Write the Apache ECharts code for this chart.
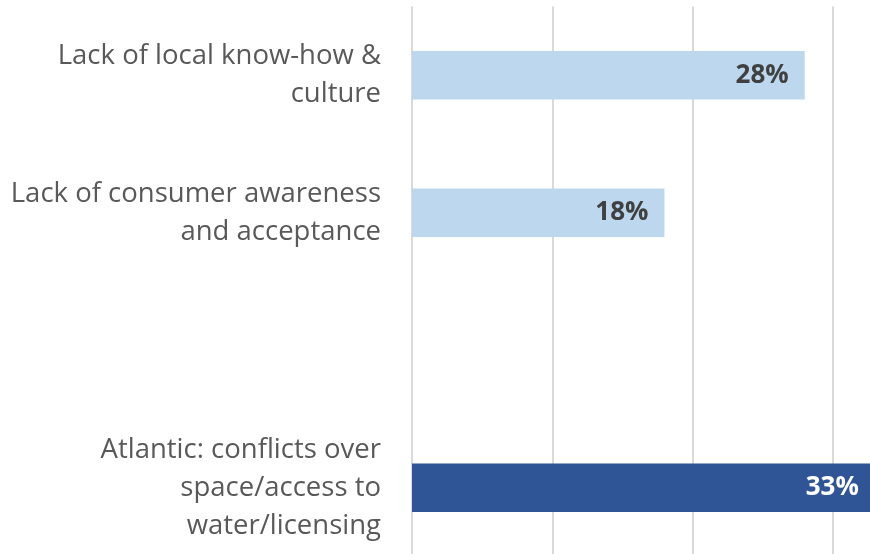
<!DOCTYPE html>
<html>
<head>
<meta charset="utf-8">
<script src="https://cdn.jsdelivr.net/npm/echarts@6/dist/echarts.min.js"></script>
<style>
  html, body { margin: 0; padding: 0; background: #fff; }
  #chart { width: 870px; height: 554px; }
</style>
</head>
<body>
<div id="chart"></div>
<script>
// categories top to bottom (blank slot keeps the gap before Atlantic)
const categories = [
  'Lack of local know-how &\nculture',
  'Lack of consumer awareness\nand acceptance',
  '',
  'Atlantic: conflicts over\nspace/access to\nwater/licensing'
]
const values = [28, 18, null, 33]
const barColors = ['#bdd7ee', '#bdd7ee', '#bdd7ee', '#2f5597']
const labelColors = ['#404040', '#404040', '#404040', '#ffffff']

const chart = echarts.init(document.getElementById('chart'))

chart.setOption({
  animation: false,
  grid: {
    left: 412,
    right: -103,
    top: 6.6,
    bottom: -2.4,
    outerBoundsMode: 'none',
    containLabel: false
  },
  xAxis: {
    type: 'value',
    min: 0,
    max: 40,
    interval: 10,
    axisLine: { show: false },
    axisTick: { show: false },
    axisLabel: { show: false },
    splitLine: { lineStyle: { color: '#d9d9d9', width: 2 } }
  },
  yAxis: {
    type: 'category',
    inverse: true,
    data: categories,
    axisLine: { show: false },
    axisTick: { show: false },
    axisLabel: {
      margin: 31,
      color: '#595959',
      fontFamily: 'Open Sans',
      fontSize: 27.5,
      lineHeight: 38,
      align: 'right'
    }
  },
  series: [
    {
      type: 'bar',
      barWidth: 48.5,
      data: values.map((v, i) => ({
        value: v,
        itemStyle: { color: barColors[i] },
        label: { color: labelColors[i] }
      })),
      label: {
        show: true,
        position: 'insideRight',
        distance: 16,
        fontFamily: 'Open Sans',
        fontWeight: 'bold',
        fontSize: 26,
        formatter: p => p.value + '%'
      }
    }
  ]
})
</script>
</body>
</html>
